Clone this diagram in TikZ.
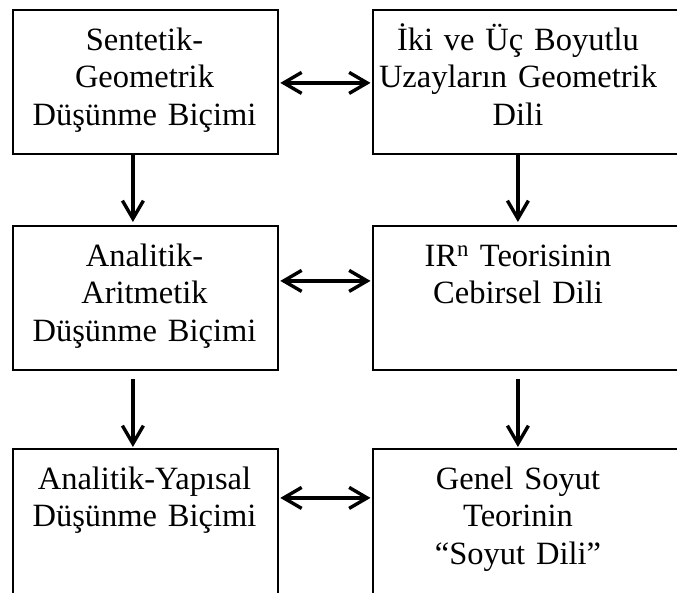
\documentclass[tikz,border=0pt]{standalone}
\usepackage{fontspec}
\setmainfont{Liberation Serif}
\usetikzlibrary{arrows.meta}
\begin{document}
\begin{tikzpicture}[x=1pt,y=-1pt,
  box/.style={draw, line width=1.8pt, rectangle, inner sep=0pt, anchor=north west},
  boxtext/.style={anchor=base, text width=300pt, align=center, inner sep=0pt,
                  font=\fontsize{32.5}{37.5}\selectfont},
  tip/.tip={Straight Barb[length=18pt,width=21pt]},
  link/.style={line width=3.4pt, tip-tip, shorten <=1.5pt, shorten >=1.5pt},
  flow/.style={line width=3.4pt, -tip}]
  \useasboundingbox (0,0) rectangle (677,592);
  \fill[white] (0,0) rectangle (677,592);
  \clip (0,0) rectangle (677,592);

  % left column: ways of thinking
  \node[box, minimum width=265pt, minimum height=144pt] (L1) at (12,9) {};
  \node[box, minimum width=265pt, minimum height=144pt] (L2) at (12,225) {};
  \node[box, minimum width=265pt, minimum height=150pt] (L3) at (12,448) {};
  % right column: languages
  \node[box, minimum width=320pt, minimum height=144pt] (R1) at (372,9) {};
  \node[box, minimum width=320pt, minimum height=144pt] (R2) at (372,225) {};
  \node[box, minimum width=320pt, minimum height=150pt] (R3) at (372,448) {};

  \node[boxtext] (tL1) at (144.5,50) {Sentetik-\\Geometrik\\Düşünme Biçimi};
  \node[boxtext] (tL2) at (144.5,266) {Analitik-\\Aritmetik\\Düşünme Biçimi};
  \node[boxtext] (tL3) at (144.5,489) {Analitik-Yapısal\\Düşünme Biçimi};
  \node[boxtext] (tR1) at (518,50) {İki ve Üç Boyutlu\\Uzayların Geometrik\\Dili};
  \node[boxtext] (tR2) at (518,266) {IR\textsuperscript{n} Teorisinin\\Cebirsel Dili};
  \node[boxtext] (tR3) at (518,489) {Genel Soyut\\Teorinin\\“Soyut Dili”};

  % two-way links between columns
  \draw[link] ([yshift=-1pt]L1.east) -- ([yshift=-1pt]L1.east -| R1.west);
  \draw[link] ([yshift=17pt]L2.east) -- ([yshift=17pt]L2.east -| R2.west);
  \draw[link] ([yshift=26pt]L3.east) -- ([yshift=26pt]L3.east -| R3.west);

  % downward steps
  \draw[flow, shorten >=3pt] ([xshift=-12.5pt]L1.south) -- ([xshift=-12.5pt]L2.north);
  \draw[flow, shorten <=8pt, shorten >=1pt] ([xshift=-12.5pt]L2.south) -- ([xshift=-12.5pt]L3.north);
  \draw[flow, shorten >=3pt] ([xshift=-15pt]R1.south) -- ([xshift=-15pt]R2.north);
  \draw[flow, shorten <=8pt, shorten >=1pt] ([xshift=-15pt]R2.south) -- ([xshift=-15pt]R3.north);
\end{tikzpicture}
\end{document}
